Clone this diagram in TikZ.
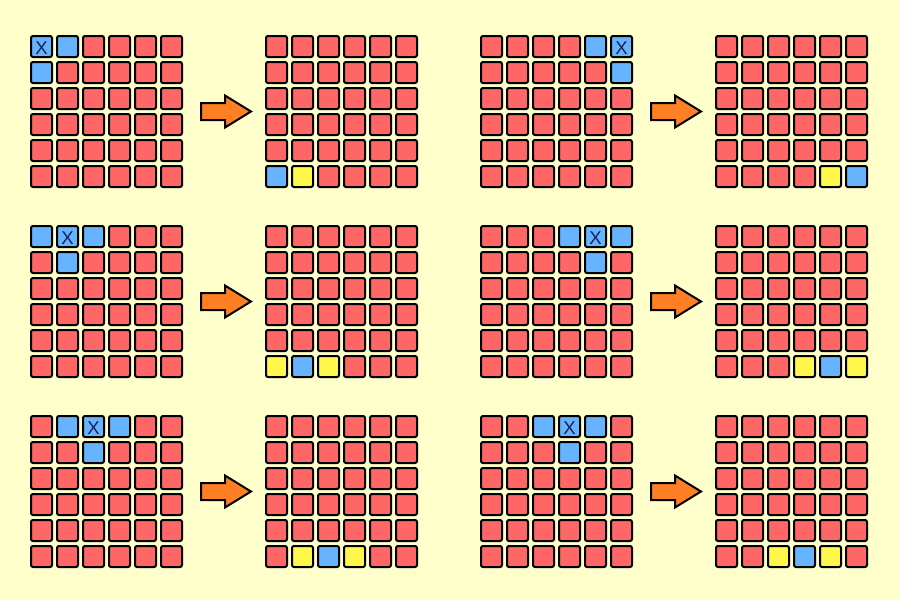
\documentclass[tikz,border=0pt]{standalone}
\usepackage{fontspec}
\usetikzlibrary{calc}
\newfontfamily\xfont{Liberation Sans}
\definecolor{bg}{HTML}{FFFFCC}
\definecolor{cred}{HTML}{FF6666}
\definecolor{cblue}{HTML}{66B3FF}
\definecolor{cyel}{HTML}{FFF84A}
\definecolor{corange}{HTML}{FF7F24}
\definecolor{xnavy}{HTML}{1C1C5A}
\tikzset{
  cellbox/.style={draw=black, line width=2pt, rounded corners=2pt, minimum size=21pt, inner sep=0pt, outer sep=0pt},
  xmark/.style={font=\xfont\fontsize{18.5}{18.5}\selectfont, text=xnavy, inner sep=0pt, yshift=-1.5pt},
  bigarrow/.style={draw=black, fill=corange, line width=2pt, line join=miter}
}
\newcommand\mygrid[4]{%
  \foreach \ri in {0,...,5}{%
    \foreach \ci in {0,...,5}{%
      \gdef\cellcol{cred}%
      \foreach \qc/\qr/\qcol in {#4}{%
        \ifnum\qc=\ci\relax\ifnum\qr=\ri\relax\xdef\cellcol{\qcol}\fi\fi
      }%
      \node[cellbox, fill=\cellcol] (#1-\ri-\ci) at (#2+26*\ci+11.5, #3+26*\ri+11.5) {};
    }%
  }%
}
\newcommand\myarrow[3]{%
  \coordinate (#1) at (#2,#3);
  \draw[bigarrow] ($(#1)+(1,-8.5)$) -- ++(24,0) -- ++(0,-7.5) -- ($(#1)+(51,0)$) -- ($(#1)+(25,16)$) -- ++(0,-7.5) -- ($(#1)+(1,8.5)$) -- cycle;
}
\begin{document}
\begin{tikzpicture}[x=1pt,y=-1pt]
\fill[bg] (0,0) rectangle (900,600);
\useasboundingbox (0,0) rectangle (900,600);
% pair 1
\mygrid{a}{30}{35}{0/0/cblue,1/0/cblue,0/1/cblue}
\node[xmark] (ax) at (a-0-0) {X};
\myarrow{ar1}{200}{111.5}
\mygrid{b}{265}{35}{0/5/cblue,1/5/cyel}
% pair 2
\mygrid{c}{480}{35}{4/0/cblue,5/0/cblue,5/1/cblue}
\node[xmark] (cx) at (c-0-5) {X};
\myarrow{ar2}{650}{111.5}
\mygrid{d}{715}{35}{4/5/cyel,5/5/cblue}
% pair 3
\mygrid{e}{30}{225}{0/0/cblue,1/0/cblue,2/0/cblue,1/1/cblue}
\node[xmark] (ex) at (e-0-1) {X};
\myarrow{ar3}{200}{301.5}
\mygrid{f}{265}{225}{0/5/cyel,1/5/cblue,2/5/cyel}
% pair 4
\mygrid{g}{480}{225}{3/0/cblue,4/0/cblue,5/0/cblue,4/1/cblue}
\node[xmark] (gx) at (g-0-4) {X};
\myarrow{ar4}{650}{301.5}
\mygrid{h}{715}{225}{3/5/cyel,4/5/cblue,5/5/cyel}
% pair 5
\mygrid{i}{30}{415}{1/0/cblue,2/0/cblue,3/0/cblue,2/1/cblue}
\node[xmark] (ix) at (i-0-2) {X};
\myarrow{ar5}{200}{491.5}
\mygrid{j}{265}{415}{1/5/cyel,2/5/cblue,3/5/cyel}
% pair 6
\mygrid{k}{480}{415}{2/0/cblue,3/0/cblue,4/0/cblue,3/1/cblue}
\node[xmark] (kx) at (k-0-3) {X};
\myarrow{ar6}{650}{491.5}
\mygrid{l}{715}{415}{2/5/cyel,3/5/cblue,4/5/cyel}
\end{tikzpicture}
\end{document}
